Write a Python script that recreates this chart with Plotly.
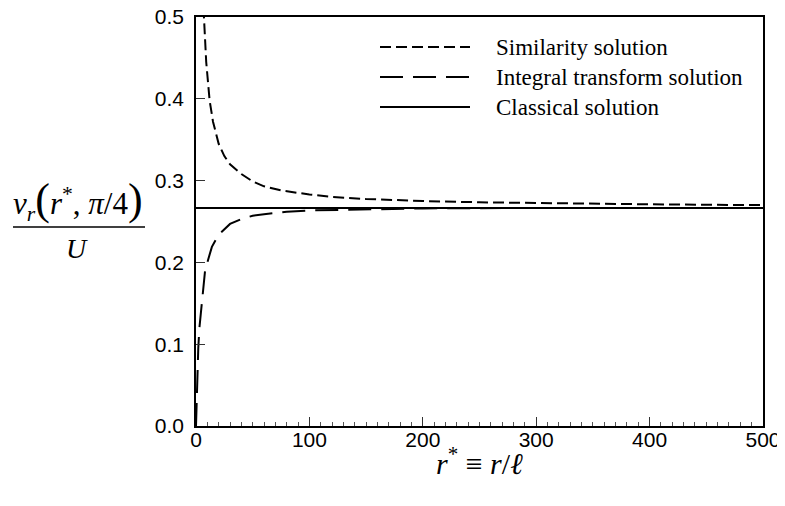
import plotly.graph_objects as go

# ---- data ----
r_sim = [5, 7, 9, 12, 15, 20, 25, 30, 40, 50, 60, 75, 100, 120, 150, 200, 250, 300, 400, 500]
v_sim = [0.59, 0.50, 0.445, 0.398, 0.372, 0.345, 0.330, 0.320, 0.308, 0.299, 0.293, 0.288,
         0.283, 0.280, 0.2775, 0.275, 0.2735, 0.2725, 0.271, 0.270]

r_int = [0, 1, 2, 3, 5, 8, 10, 14, 20, 25, 30, 40, 50, 60, 80, 100, 150, 200, 300, 500]
v_int = [0.0, 0.06, 0.095, 0.12, 0.150, 0.190, 0.200, 0.219, 0.234, 0.241, 0.247, 0.253,
         0.257, 0.259, 0.262, 0.2635, 0.265, 0.266, 0.2665, 0.2666]

r_cls = [0, 500]
v_cls = [0.2666, 0.2666]

series_names = ["Similarity solution", "Integral transform solution", "Classical solution"]
x_ticks = [0, 100, 200, 300, 400, 500]
y_ticks = [0.0, 0.1, 0.2, 0.3, 0.4, 0.5]

# ---- layout geometry (screen pixels of the target) ----
W, H = 785, 506
OFF = 8  # page body margin
SL, SR, ST, SB = 196, 763, 17, 426          # desired plot frame on screen
L, T = SL - OFF, ST - OFF
R, B = W - (SR - OFF), H - (SB - OFF)
PW, PH = W - L - R, H - T - B


def px(xs):
    return (xs - OFF - L) / PW


def py(ys):
    return (H - B - (ys - OFF)) / PH


dashes = ["11px,5px", "23px,10px", "solid"]
xs_all = [r_sim, r_int, r_cls]
ys_all = [v_sim, v_int, v_cls]

fig = go.Figure()
for name, x, y, d in zip(series_names, xs_all, ys_all, dashes):
    fig.add_trace(go.Scatter(x=x, y=y, mode="lines", name=name, showlegend=False,
                             line=dict(color="black", width=2, dash=d)))

shapes = []
annotations = []
for i, (name, d) in enumerate(zip(series_names, dashes)):
    yy = py(47 + 30 * i)
    shapes.append(dict(type="line", xref="paper", yref="paper", x0=px(380), x1=px(470),
                       y0=yy, y1=yy, line=dict(color="black", width=2, dash=d)))
    annotations.append(dict(xref="paper", yref="paper", x=px(494), y=yy, text=name,
                            showarrow=False, xanchor="left", yanchor="middle",
                            font=dict(family="Liberation Serif", size=23, color="black")))

# y-axis title as a fraction
shapes.append(dict(type="line", xref="paper", yref="paper", x0=px(13), x1=px(145),
                   y0=py(227), y1=py(227), line=dict(color="black", width=1.5)))
annotations.append(dict(xref="paper", yref="paper", x=px(78), y=py(201),
                        text="<i>v</i><sub><i>r</i></sub><span style='font-size:44px'>(</span>"
                             "<i>r</i><sup>*</sup>, <i>π</i>/4"
                             "<span style='font-size:44px'>)</span>",
                        showarrow=False, xanchor="center", yanchor="middle",
                        font=dict(family="Liberation Serif", size=31, color="black")))
annotations.append(dict(xref="paper", yref="paper", x=px(77), y=py(249), text="<i>U</i>",
                        showarrow=False, xanchor="center", yanchor="middle",
                        font=dict(family="Liberation Serif", size=28, color="black")))
# x-axis title
annotations.append(dict(xref="paper", yref="paper", x=px(479), y=py(461),
                        text="<i>r</i><sup>*</sup> ≡ <i>r</i>/<i>ℓ</i>",
                        showarrow=False, xanchor="center", yanchor="middle",
                        font=dict(family="Liberation Serif", size=30, color="black")))

fig.update_layout(
    width=W, height=H,
    margin=dict(l=L, r=R, t=T, b=B, autoexpand=False),
    paper_bgcolor="white", plot_bgcolor="white",
    shapes=shapes, annotations=annotations,
    xaxis=dict(range=[0, 500], tickvals=x_ticks, ticktext=[str(v) for v in x_ticks],
               ticks="inside", ticklen=9, tickwidth=1.2, tickcolor="#333",
               minor=dict(dtick=10, ticks="inside", ticklen=4, tickwidth=1, tickcolor="#555"),
               showline=True, linecolor="black", linewidth=1.5, mirror=True,
               showgrid=False, zeroline=False, ticklabelstandoff=-6,
               ticklabeloverflow="allow",
               tickfont=dict(family="Liberation Sans", size=21, color="black")),
    yaxis=dict(range=[0, 0.5], tickvals=y_ticks, ticktext=[f"{v:.1f}" for v in y_ticks],
               ticks="inside", ticklen=9, tickwidth=1.2, tickcolor="#333",
               showline=True, linecolor="black", linewidth=1.5, mirror=True,
               showgrid=False, zeroline=False, ticklabelstandoff=6,
               ticklabeloverflow="allow",
               tickfont=dict(family="Liberation Sans", size=21, color="black")),
)

fig.write_html("out.html")
